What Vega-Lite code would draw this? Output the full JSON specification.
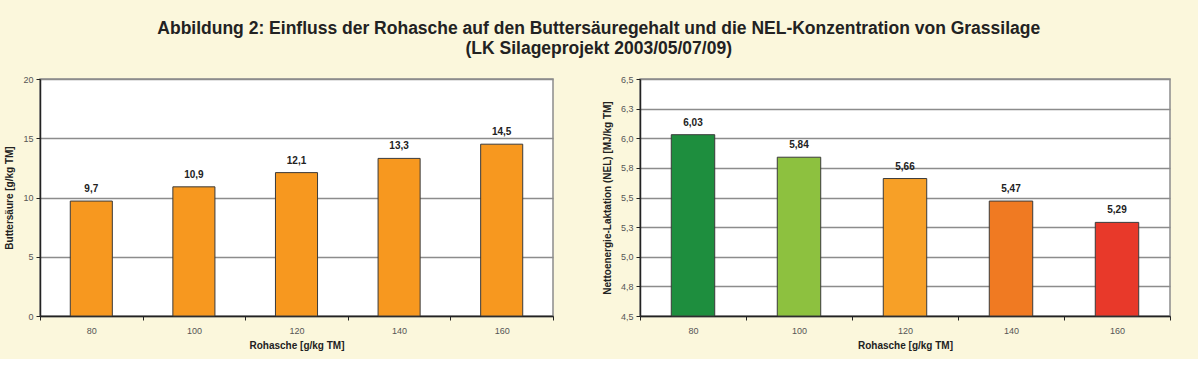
{
  "$schema": "https://vega.github.io/schema/vega-lite/v6.json",
  "background": "#FBF7DC",
  "padding": {"left": 4, "top": 19, "right": 26, "bottom": 8},
  "title": {
    "text": ["Abbildung 2: Einfluss der Rohasche auf den Buttersäuregehalt und die NEL-Konzentration von Grassilage", "(LK Silageprojekt 2003/05/07/09)"],
    "anchor": "middle",
    "fontSize": 17.5,
    "font": "Liberation Sans",
    "fontWeight": "bold",
    "color": "#222222",
    "lineHeight": 20,
    "offset": 17,
    "dx": 11
  },
  "config": {
    "locale": {"number": {"decimal": ",", "thousands": ".", "grouping": [3], "currency": ["", " €"]}},
    "view": {"fill": "white", "stroke": "#8c8c8c", "strokeWidth": 1.5},
    "axis": {
      "labelFont": "Liberation Sans",
      "labelFontSize": 9,
      "labelColor": "#555555",
      "titleFont": "Liberation Sans",
      "titleFontSize": 10,
      "titleFontWeight": "bold",
      "titleColor": "#222222",
      "domainColor": "#222222",
      "domainWidth": 1.5,
      "tickColor": "#222222",
      "tickSize": 4,
      "gridColor": "#8c8c8c",
      "gridWidth": 1.5
    },
    "axisX": {"grid": false, "labelPadding": 6, "titlePadding": 5, "labelAngle": 0},
    "axisY": {"labelPadding": 3, "titlePadding": 8}
  },
  "spacing": 46,
  "hconcat": [
    {
      "width": 513,
      "height": 237,
      "data": {"values": [
        {"Rohasche": 80, "Buttersaeure": 9.7},
        {"Rohasche": 100, "Buttersaeure": 10.9},
        {"Rohasche": 120, "Buttersaeure": 12.1},
        {"Rohasche": 140, "Buttersaeure": 13.3},
        {"Rohasche": 160, "Buttersaeure": 14.5}
      ]},
      "encoding": {
        "x": {"field": "Rohasche", "type": "ordinal", "scale": {"paddingInner": 0, "paddingOuter": 0}, "axis": {"title": "Rohasche [g/kg TM]", "tickBand": "extent"}},
        "y": {"field": "Buttersaeure", "type": "quantitative", "scale": {"domain": [0, 20]}, "axis": {"values": [0, 5, 10, 15, 20], "title": "Buttersäure [g/kg TM]", "format": "d"}}
      },
      "layer": [
        {"mark": {"type": "bar", "width": {"band": 0.41}, "color": "#F7981F", "stroke": "#3a3a3a", "strokeWidth": 1}},
        {"mark": {"type": "text", "dy": -7, "baseline": "bottom", "fontWeight": "bold", "fontSize": 10, "font": "Liberation Sans", "color": "#222222"},
         "encoding": {"text": {"field": "Buttersaeure", "type": "quantitative", "format": ".1f"}}}
      ]
    },
    {
      "width": 530,
      "height": 237,
      "data": {"values": [
        {"Rohasche": 80, "NEL": 6.03},
        {"Rohasche": 100, "NEL": 5.84},
        {"Rohasche": 120, "NEL": 5.66},
        {"Rohasche": 140, "NEL": 5.47},
        {"Rohasche": 160, "NEL": 5.29}
      ]},
      "encoding": {
        "x": {"field": "Rohasche", "type": "ordinal", "scale": {"paddingInner": 0, "paddingOuter": 0}, "axis": {"title": "Rohasche [g/kg TM]", "tickBand": "extent"}},
        "y": {"field": "NEL", "type": "quantitative", "scale": {"domain": [4.5, 6.5], "zero": false}, "axis": {"values": [4.5, 4.75, 5, 5.25, 5.5, 5.75, 6, 6.25, 6.5], "title": "Nettoenergie-Laktation (NEL) [MJ/kg TM]", "format": ".1f"}}
      },
      "layer": [
        {"mark": {"type": "bar", "width": {"band": 0.41}, "stroke": "#3a3a3a", "strokeWidth": 1},
         "encoding": {
           "y2": {"datum": 4.5},
           "color": {"field": "Rohasche", "type": "ordinal", "scale": {"domain": [80, 100, 120, 140, 160], "range": ["#1E8E3E", "#8DC13F", "#F7A027", "#F07A22", "#E8392A"]}, "legend": null}}},
        {"mark": {"type": "text", "dy": -7, "baseline": "bottom", "fontWeight": "bold", "fontSize": 10, "font": "Liberation Sans", "color": "#222222"},
         "encoding": {"text": {"field": "NEL", "type": "quantitative", "format": ".2f"}}}
      ]
    }
  ]
}
